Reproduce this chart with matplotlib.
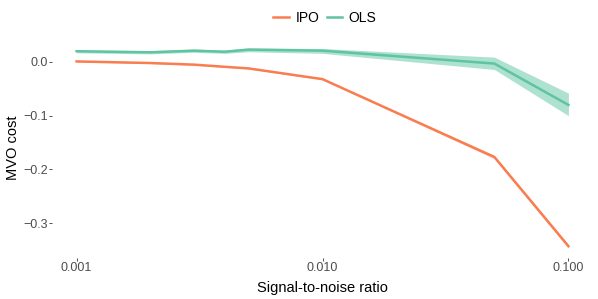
import numpy as np
import matplotlib
matplotlib.use("Agg")
import matplotlib.pyplot as plt
from matplotlib.ticker import FixedLocator, FuncFormatter, NullLocator

plt.rcParams['font.family'] = ['Liberation Sans', 'DejaVu Sans']

# data
snr = [0.001, 0.002, 0.003, 0.004, 0.005, 0.01, 0.05, 0.1]
ipo_mean = [0.001, -0.002, -0.005, -0.009, -0.012, -0.032, -0.177, -0.343]
ipo_lo = [0.000, -0.003, -0.006, -0.010, -0.013, -0.033, -0.180, -0.346]
ipo_hi = [0.002, -0.001, -0.004, -0.008, -0.011, -0.031, -0.174, -0.340]
ols_mean = [0.020, 0.018, 0.021, 0.019, 0.023, 0.021, -0.003, -0.080]
ols_lo = [0.017, 0.015, 0.018, 0.016, 0.019, 0.016, -0.014, -0.100]
ols_hi = [0.022, 0.021, 0.024, 0.022, 0.026, 0.025, 0.009, -0.058]

c_ipo = '#FA7D50'
c_ols = '#5FC4A2'

fig = plt.figure(figsize=(5.98, 2.99), dpi=100)
ax = fig.add_axes([52 / 598, 1 - 258 / 299, (593 - 52) / 598, (258 - 38) / 299])

ax.fill_between(snr, ols_lo, ols_hi, color=c_ols, alpha=0.5, lw=0)
ax.fill_between(snr, ipo_lo, ipo_hi, color=c_ipo, alpha=0.5, lw=0)
ax.plot(snr, ipo_mean, color=c_ipo, lw=1.8, label='IPO')
ax.plot(snr, ols_mean, color=c_ols, lw=1.8, label='OLS')

ax.set_xscale('log')
ax.set_xlim(10 ** -3.1, 10 ** -0.9)
ax.set_ylim(-0.365, 0.0446)

ax.xaxis.set_major_locator(FixedLocator([0.001, 0.01, 0.1]))
ax.xaxis.set_minor_locator(NullLocator())
ax.xaxis.set_major_formatter(FuncFormatter(lambda v, p: f'{v:.3f}'))
ax.yaxis.set_major_locator(FixedLocator([-0.3, -0.2, -0.1, 0.0]))
ax.yaxis.set_major_formatter(FuncFormatter(lambda v, p: f'{v:.1f}'.replace('-', '\u2212')))

for s in ax.spines.values():
    s.set_visible(False)
ax.tick_params(axis='both', length=2.2, width=0.6, color='#333333',
               labelcolor='#4D4D4D', labelsize=9, pad=1)

ax.set_xlabel('Signal-to-noise ratio', fontsize=10.5, labelpad=5)
ax.set_ylabel('MVO cost', fontsize=10.5, labelpad=2)

fig.legend(loc='upper center', bbox_to_anchor=(325 / 598, 0.99), ncol=2,
           frameon=False, fontsize=10, handlelength=1.1, handletextpad=0.5,
           columnspacing=0.5, borderaxespad=0.2)

fig.savefig('out.png', dpi=100)
